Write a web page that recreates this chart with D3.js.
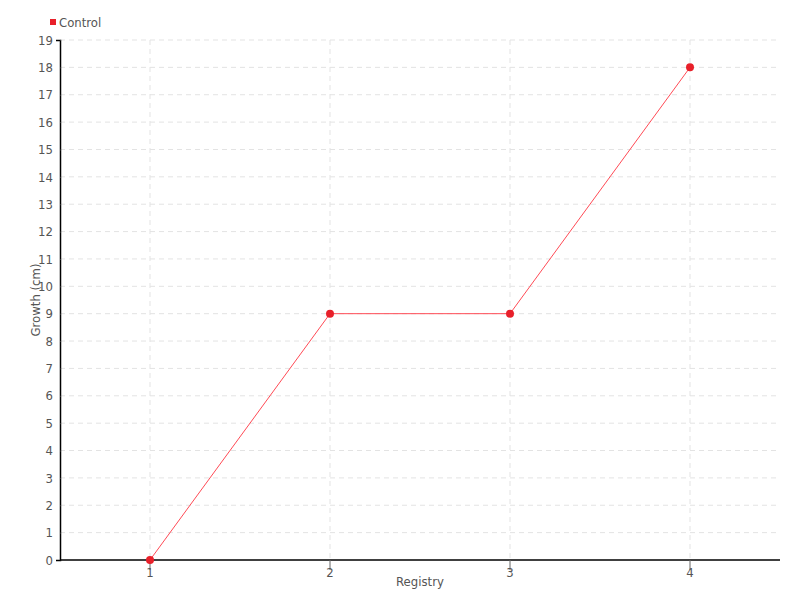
<!DOCTYPE html>
<html>
<head>
<meta charset="utf-8">
<script src="https://cdn.jsdelivr.net/npm/d3@7"></script>
<style>
  body { margin: 0; background: #fff; }
  svg text { font-family: "DejaVu Sans", sans-serif; font-stretch: condensed; fill: #555; }
  .grid line { stroke: #e3e3e3; stroke-dasharray: 5,4; }
</style>
</head>
<body>
<svg id="chart" width="800" height="600"></svg>
<script>
// chart data
var categories = ['1', '2', '3', '4'];
var control = [0, 9, 9, 18];
var yTicks = d3.range(0, 20);

var margin = {top: 40, right: 20, bottom: 40, left: 60},
	width = 800 - margin.left - margin.right,
	height = 600 - margin.top - margin.bottom;

var svg = d3.select('#chart');
var g = svg.append('g').attr('transform', 'translate(' + margin.left + ',' + margin.top + ')');

var x = d3.scaleBand().domain(categories).range([0, width]);
var y = d3.scaleLinear().domain([0, 19]).range([height, 0]);
var cx = d => x(d) + x.bandwidth() / 2;

// grid
g.append('g').attr('class', 'grid')
	.selectAll('line.h').data(yTicks.slice(1)).enter().append('line')
	.attr('x1', 0).attr('x2', width)
	.attr('y1', d => y(d)).attr('y2', d => y(d));
g.append('g').attr('class', 'grid')
	.selectAll('line.v').data(categories).enter().append('line')
	.attr('x1', cx).attr('x2', cx)
	.attr('y1', 0).attr('y2', height);

// y axis
var yAxis = g.append('g')
	.call(d3.axisLeft(y).tickValues(yTicks).tickSize(4).tickPadding(3).tickFormat(d3.format('d')));
yAxis.select('.domain').attr('stroke', '#000').attr('stroke-width', 1.5);
yAxis.selectAll('.tick line').attr('stroke', '#333').attr('x2', 1);
yAxis.selectAll('text').style('font-size', '13px').attr('fill', '#555');

// x axis
var xAxis = g.append('g').attr('transform', 'translate(0,' + height + ')')
	.call(d3.axisBottom(x).tickSize(10).tickPadding(-2));
xAxis.select('.domain').attr('stroke', '#000').attr('stroke-width', 1.5).attr('d', 'M0,0H' + width);
xAxis.selectAll('.tick line').attr('stroke', '#666');
xAxis.selectAll('text').style('font-size', '13px').attr('fill', '#555');

// axis titles
svg.append('text')
	.attr('transform', 'translate(40,' + (margin.top + height / 2) + ') rotate(-90)')
	.attr('text-anchor', 'middle')
	.style('font-size', '13px')
	.text('Growth (cm)');
svg.append('text')
	.attr('x', margin.left + width / 2).attr('y', 586)
	.attr('text-anchor', 'middle')
	.style('font-size', '13px')
	.text('Registry');

// series
var line = d3.line().x((d, i) => cx(categories[i])).y(d => y(d));
g.append('path').datum(control)
	.attr('fill', 'none')
	.attr('stroke', '#ff4a55')
	.attr('stroke-width', 1)
	.attr('d', line);
g.selectAll('circle').data(control).enter().append('circle')
	.attr('cx', (d, i) => cx(categories[i]))
	.attr('cy', d => y(d))
	.attr('r', 4)
	.attr('fill', '#e8202a');

// legend
svg.append('rect').attr('x', 50).attr('y', 19).attr('width', 6).attr('height', 6).attr('fill', '#e8202a');
svg.append('text').attr('x', 59).attr('y', 27).style('font-size', '13px').text('Control');
</script>
</body>
</html>
